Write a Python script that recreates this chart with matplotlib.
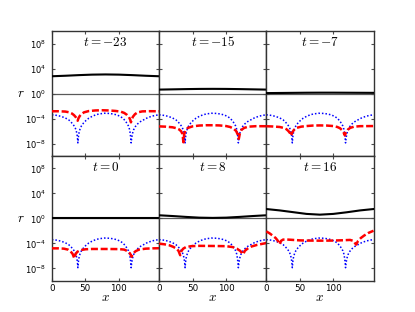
import numpy as np
import matplotlib
matplotlib.use("Agg")
import matplotlib.pyplot as plt
from matplotlib.ticker import FixedLocator, NullLocator, LogFormatterSciNotation

plt.rcParams['mathtext.fontset'] = 'cm'
plt.rcParams['font.family'] = ['DejaVu Sans']

times = [-23, -15, -7, 0, 8, 16]

# black solid curve (log10 r)
black_x = [0, 20, 40, 60, 80, 100, 120, 140, 160]
black_log10 = [
    [2.78, 2.86, 2.96, 3.04, 3.07, 3.04, 2.96, 2.86, 2.78],
    [0.64, 0.68, 0.72, 0.75, 0.76, 0.75, 0.72, 0.68, 0.64],
    [0.08, 0.10, 0.12, 0.14, 0.15, 0.15, 0.14, 0.13, 0.12],
    [0.03, 0.03, 0.03, 0.03, 0.03, 0.03, 0.03, 0.03, 0.03],
    [0.50, 0.38, 0.24, 0.12, 0.08, 0.12, 0.24, 0.38, 0.50],
    [1.50, 1.28, 1.00, 0.72, 0.60, 0.72, 0.98, 1.28, 1.50],
]

# blue dotted curve (log10 r), same in every panel
blue_x = [0, 5, 10, 15, 20, 25, 28, 31, 34, 36, 37.3, 38.2, 38.8, 39.5, 40.5, 42,
          44, 47, 51, 55, 60, 65, 70, 78, 86, 92, 97, 102, 106, 109, 112, 114.3,
          115.8, 116.8, 117.6, 118.3, 119.1, 120.3, 122, 124.5, 128, 132, 137,
          143, 150, 155, 160]
blue_log10 = [-3.40, -3.45, -3.55, -3.70, -3.90, -4.20, -4.50, -4.85, -5.30, -5.80,
              -6.40, -7.10, -7.90, -7.00, -6.30, -5.70, -5.20, -4.75, -4.30, -3.95,
              -3.65, -3.42, -3.27, -3.15, -3.18, -3.28, -3.42, -3.65, -3.95, -4.30,
              -4.75, -5.20, -5.70, -6.30, -7.00, -7.90, -7.10, -6.40, -5.80, -5.30,
              -4.85, -4.50, -4.20, -3.85, -3.60, -3.48, -3.40]

# red dashed curve (log10 r)
red_x = [
    [0, 10, 20, 26, 30, 33, 35.5, 37.5, 38.5, 39.5, 41.5, 44, 48, 55, 65, 75, 85,
     95, 103, 108, 112, 115, 117, 118, 119, 121, 124, 128, 135, 145, 160],
    [0, 10, 20, 26, 30, 33, 35, 36.3, 37.5, 39.5, 43, 50, 60, 70, 80, 90, 100,
     106, 111, 115, 117.5, 119, 120.5, 123, 127, 133, 145, 160],
    [0, 10, 20, 26, 30, 33, 35.5, 37, 38.5, 41, 45, 52, 60, 70, 80, 90, 100, 106,
     110, 113, 115.5, 117.2, 118.8, 121.5, 125, 131, 140, 160],
    [0, 10, 18, 24, 28, 31, 33.5, 35.5, 38, 42, 50, 60, 80, 100, 108, 113, 116.5,
     119, 121.5, 125, 130, 140, 150, 160],
    [0, 8, 15, 21, 26, 29, 31.5, 33.5, 36, 40, 48, 60, 80, 100, 110, 116, 121,
     125.5, 128, 132, 138, 146, 153, 160],
    [0, 5, 10, 14, 17, 20, 22, 25, 30, 40, 50, 60, 80, 100, 115, 125, 130, 134,
     137, 141, 146, 152, 160],
]
red_log10 = [
    [-2.83, -2.83, -2.88, -3.00, -3.20, -3.45, -3.75, -4.10, -4.35, -4.00, -3.60,
     -3.30, -3.00, -2.80, -2.70, -2.67, -2.70, -2.78, -2.90, -3.10, -3.40, -3.75,
     -4.20, -4.60, -4.20, -3.70, -3.30, -3.00, -2.85, -2.82, -2.83],
    [-5.25, -5.30, -5.40, -5.55, -5.75, -6.05, -6.50, -7.80, -6.50, -5.85, -5.50,
     -5.25, -5.12, -5.07, -5.07, -5.10, -5.20, -5.35, -5.60, -6.00, -6.60, -7.25,
     -6.40, -5.80, -5.50, -5.30, -5.22, -5.23],
    [-5.23, -5.27, -5.35, -5.50, -5.70, -6.00, -6.35, -6.75, -6.30, -5.85, -5.50,
     -5.30, -5.20, -5.12, -5.10, -5.12, -5.20, -5.35, -5.55, -5.85, -6.25, -6.70,
     -6.25, -5.80, -5.50, -5.30, -5.22, -5.20],
    [-4.80, -4.80, -4.85, -5.00, -5.30, -5.70, -6.40, -5.70, -5.35, -5.10, -4.95,
     -4.90, -4.90, -4.92, -5.00, -5.25, -5.60, -6.15, -5.60, -5.25, -5.00, -4.85,
     -4.80, -4.78],
    [-4.05, -4.15, -4.30, -4.55, -4.85, -5.20, -5.90, -5.20, -4.85, -4.60, -4.45,
     -4.40, -4.42, -4.45, -4.60, -4.85, -5.20, -5.75, -5.20, -4.85, -4.50, -4.25,
     -4.10, -3.95],
    [-2.08, -2.40, -2.80, -3.15, -3.55, -4.15, -3.60, -3.40, -3.38, -3.45, -3.52,
     -3.55, -3.57, -3.55, -3.50, -3.45, -3.60, -4.20, -3.60, -3.15, -2.75, -2.35,
     -1.98],
]

x_ticks = [0, 50, 100]
y_ticks = [1e-8, 1e-4, 1e0, 1e4, 1e8]

fig, axes = plt.subplots(2, 3, figsize=(4.15, 3.12), dpi=100, sharex=True, sharey=True)
fig.subplots_adjust(left=0.125, right=0.9, bottom=0.1, top=0.9, wspace=0, hspace=0)

for i, ax in enumerate(axes.flat):
    ax.set_yscale('log')
    ax.axhline(1.0, color='0.35', lw=0.9, zorder=1)
    ax.plot(black_x, 10.0 ** np.array(black_log10[i]), color='k', lw=1.5, zorder=3)
    ax.plot(red_x[i], 10.0 ** np.array(red_log10[i]), color='#ff0000', lw=1.8,
            linestyle=(0, (2.8, 1.1)), zorder=3)
    ax.plot(blue_x, 10.0 ** np.array(blue_log10), color='#0000ff', lw=1.1,
            linestyle=(0, (1.0, 1.3)), zorder=2)
    ax.set_xlim(0, 160)
    ax.set_ylim(1e-10, 1e10)
    ax.xaxis.set_major_locator(FixedLocator(x_ticks))
    ax.yaxis.set_major_locator(FixedLocator(y_ticks))
    ax.yaxis.set_major_formatter(LogFormatterSciNotation())
    ax.yaxis.set_minor_locator(NullLocator())
    ax.xaxis.set_minor_locator(NullLocator())
    ax.tick_params(axis='both', which='major', direction='in', top=True, right=True,
                   length=2.2, width=0.8, color='0.3')
    ax.tick_params(axis='y', labelsize=6.0, pad=4.0)
    ax.tick_params(axis='x', labelsize=6.3, pad=2.5)
    for sp in ax.spines.values():
        sp.set_color('0.2')
        sp.set_linewidth(1.0)
    ax.text(0.5, 0.91, r'$t=%d$' % times[i], transform=ax.transAxes,
            ha='center', va='center', fontsize=9.5)
    row, col = divmod(i, 3)
    if col == 0:
        ax.set_ylabel(r'$r$', rotation=0, fontsize=9.5)
        ax.yaxis.set_label_coords(-0.285, 0.5)
        ax.yaxis.label.set_va('center')
        ax.yaxis.label.set_ha('center')
    else:
        ax.tick_params(axis='y', labelleft=False)
    if row == 1:
        ax.set_xlabel(r'$x$', fontsize=9.5)
        ax.xaxis.set_label_coords(0.5, -0.13)
        ax.xaxis.label.set_va('center')
    else:
        ax.tick_params(axis='x', labelbottom=False)

fig.savefig('out.png', dpi=100)
